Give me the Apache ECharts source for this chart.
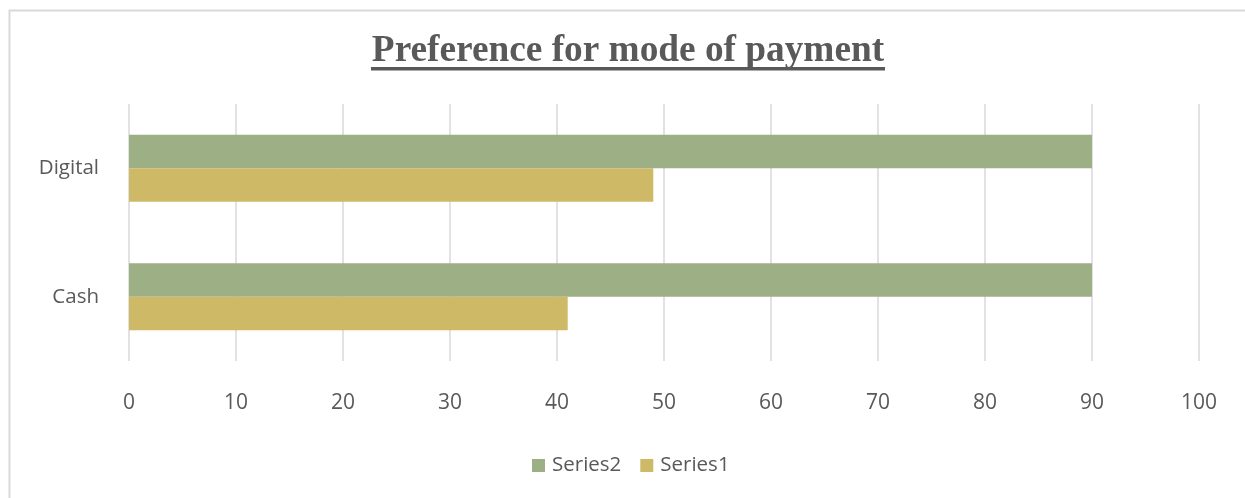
<!DOCTYPE html>
<html><head><meta charset="utf-8">
<script src="https://cdn.jsdelivr.net/npm/echarts@6/dist/echarts.min.js"></script>
<style>html,body{margin:0;padding:0;background:#fff;}#c{width:1245px;height:498px;}</style>
</head><body><div id="c"></div>
<script>
const categories = ['Cash', 'Digital'];
const series2 = [90, 90];
const series1 = [41, 49];
const xTicks = { min: 0, max: 100, interval: 10 };
const titleText = 'Preference for mode of payment';

const chart = echarts.init(document.getElementById('c'), null, {renderer: 'canvas'});
const textFont = '"Open Sans", "Liberation Sans", sans-serif';
chart.setOption({
  animation: false,
  backgroundColor: '#fff',
  title: {
    text: titleText,
    left: 623, top: 28, textAlign: 'center',
    textStyle: { fontFamily: '"Liberation Serif", "Times New Roman", serif', fontWeight: 'bold', fontSize: 37.3, color: '#595959' }
  },
  graphic: [
    { type: 'rect', left: 7, top: 8, shape: { width: 1260, height: 520 }, style: { fill: 'none', stroke: '#D9D9D9', lineWidth: 2 }, silent: true, z: 100 },
    { type: 'rect', left: 371, top: 67, shape: { width: 514, height: 3.5 }, style: { fill: '#595959' }, silent: true }
  ],
  legend: {
    bottom: 17, left: 527, itemWidth: 13, itemHeight: 13, itemGap: 19,
    icon: 'rect',
    data: ['Series2', 'Series1'],
    textStyle: { fontFamily: textFont, fontSize: 20.5, color: '#595959', padding: [0, 0, 0, 2] }
  },
  grid: { left: 129, right: 46, top: 104, bottom: 137, containLabel: false },
  xAxis: {
    type: 'value', min: xTicks.min, max: xTicks.max, interval: xTicks.interval,
    axisLine: { show: false }, axisTick: { show: false },
    splitLine: { show: true, lineStyle: { color: '#D9D9D9', width: 1.5 } },
    axisLabel: { margin: 32, fontFamily: textFont, fontSize: 21, color: '#595959' }
  },
  yAxis: {
    type: 'category', data: categories,
    axisLine: { show: false }, axisTick: { show: false },
    axisLabel: { margin: 30, fontFamily: textFont, fontSize: 20.5, color: '#595959' }
  },
  series: [
    { name: 'Series2', type: 'bar', data: series2, barGap: '0%', barCategoryGap: '47.8%', itemStyle: { color: '#9DAF84' } },
    { name: 'Series1', type: 'bar', data: series1, barGap: '0%', barCategoryGap: '47.8%', itemStyle: { color: '#CEB966' } }
  ]
});
</script></body></html>
